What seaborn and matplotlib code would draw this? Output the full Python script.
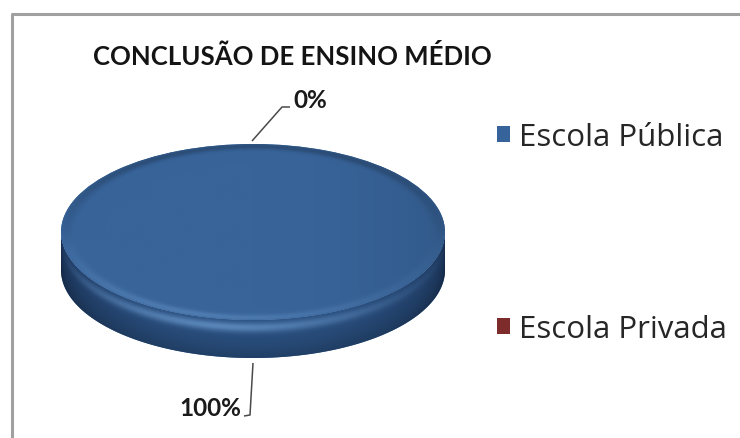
import numpy as np
import matplotlib
matplotlib.use("Agg")
import matplotlib.pyplot as plt
import seaborn as sns
from matplotlib.path import Path
from matplotlib.patches import PathPatch
from matplotlib.lines import Line2D

# dados do gráfico
titulo = "CONCLUSÃO DE ENSINO MÉDIO"
categorias = ["Escola Pública", "Escola Privada"]
percentuais = [100, 0]
cores = ["#36639a", "#7d2b2b"]

sns.set_theme(style="white")
plt.rcParams["font.family"] = ["Open Sans", "DejaVu Sans"]

W, H = 740, 439
fig = plt.figure(figsize=(W / 100, H / 100), dpi=100)
fig.patch.set_facecolor("white")
ax = fig.add_axes([0, 0, 1, 1])

# geometria do disco (pixels): centro da face superior, semi-eixos e espessura
cx, cy, a, b = 253, 233, 192, 88
esp = 38 / b

wedges, _ = ax.pie(percentuais, colors=cores, startangle=90, counterclock=False,
                   radius=1, wedgeprops=dict(linewidth=0, zorder=3))


def lateral(t1, t2):
    """Caminho da borda lateral visível entre os ângulos t1..t2 (graus)."""
    lo, hi = max(t1, -180), min(t2, 0)
    if hi <= lo:
        return None
    t = np.radians(np.linspace(lo, hi, 200))
    top = np.column_stack([np.cos(t), np.sin(t)])
    bot = np.column_stack([np.cos(t[::-1]), np.sin(t[::-1]) - esp])
    return Path(np.vstack([top, bot, top[:1]]), closed=True)


# sombreamento da lateral
nx, ny = 500, 160
xs = np.linspace(-1, 1, nx)
ys = np.linspace(-1 - esp, 0, ny)
X, Y = np.meshgrid(xs, ys)
ytop = -np.sqrt(np.clip(1 - X ** 2, 0, 1))
rel = np.clip((ytop - Y) / esp, 0, 1)
g = np.sqrt(np.clip(1 - X ** 2, 0, 1))
dark = np.array([24, 46, 80]) / 255
mid = np.array([42, 80, 128]) / 255
hi_c = np.array([100, 146, 198]) / 255
side = dark + (mid - dark) * g[..., None] ** 0.8
hw = np.exp(-((rel - 0.2) / 0.13) ** 2) * g ** 1.5 * (1 - 0.55 * np.clip(X + 0.2, 0, 1))
side = side + (hi_c - side) * (0.85 * hw)[..., None]
side = side * (1 - 0.2 * rel ** 2)[..., None]

for w in wedges:
    p = lateral(w.theta1, w.theta2)
    if p is None:
        continue
    patch = PathPatch(p, facecolor=w.get_facecolor(), edgecolor="none", zorder=2)
    ax.add_patch(patch)
    im = ax.imshow(np.clip(side, 0, 1), extent=(-1, 1, -1 - esp, 0), origin="lower",
                   aspect="auto", interpolation="bilinear", zorder=2.5)
    im.set_clip_path(patch)

# sombreamento da face superior
tx = np.linspace(-1, 1, 500)
TX, TY = np.meshgrid(tx, tx)
R = np.sqrt(TX ** 2 + TY ** 2)
base = np.array([56, 100, 154]) / 255
face = np.ones(TX.shape + (3,)) * base
face = face * (1 - 0.10 * np.clip(TX, 0, 1) ** 2)[..., None]
ring = np.exp(-((R - 0.975) / 0.035) ** 2)
front = np.clip(-TY, 0, 1) * (1 - 0.6 * np.clip(TX + 0.3, 0, 1))
face = face + (hi_c - face) * (0.55 * ring * front)[..., None]
face = face * (1 - 0.22 * ring * np.clip(TY + 0.2, 0, 1))[..., None]
for w in wedges:
    if w.theta2 - w.theta1 <= 0:
        continue
    im = ax.imshow(np.clip(face, 0, 1), extent=(-1, 1, -1, 1), origin="lower",
                   aspect="auto", interpolation="bilinear", zorder=3.5)
    im.set_clip_path(w)

# rótulos de porcentagem com linhas de chamada (deslocamentos em pixels)
chamadas = {
    "sup": dict(pts=[(-1, -3), (29, -37), (37, -37)], txt=(40, -44), ha="left"),
    "inf": dict(pts=[(0, 5), (-3, 57), (-9, 58)], txt=(-12, 50), ha="right"),
}
for w, v in zip(wedges, percentuais):
    th = np.radians((w.theta1 + w.theta2) / 2)
    ax0, ay0 = np.cos(th), np.sin(th)
    if ay0 < 0:
        ay0 -= esp
    c = chamadas["sup"] if ay0 > 0 else chamadas["inf"]
    px = [ax0 + dx / a for dx, dy in c["pts"]]
    py = [ay0 - dy / b for dx, dy in c["pts"]]
    ax.plot(px, py, color="#4a4a4a", lw=1.1, zorder=5, solid_capstyle="butt")
    ax.text(ax0 + c["txt"][0] / a, ay0 - c["txt"][1] / b, f"{v:.0f}%",
            ha=c["ha"], va="center", fontsize=17.5, fontweight="bold",
            family=["Lato", "DejaVu Sans"], color="#1a1a1a", zorder=6)

ax.set_aspect("auto")
ax.set_xlim(-cx / a, (W - cx) / a)
ax.set_ylim((cy - H) / b, cy / b)
ax.axis("off")

fig.text(93 / W, 1 - 65 / H, titulo, ha="left", va="baseline", fontsize=18.5,
         fontweight="bold", family=["Lato", "DejaVu Sans"], color="#141414")

leg = ax.legend(wedges, categorias, loc="center left",
                bbox_to_anchor=(497 / W, 1 - 234 / H), bbox_transform=fig.transFigure,
                frameon=False, fontsize=22.5, handlelength=0.42, handleheight=0.42,
                handletextpad=0.28, labelspacing=5.18, borderpad=0, borderaxespad=0)
for t in leg.get_texts():
    t.set_color("#262626")

# moldura
fig.add_artist(Line2D([12 / W, 12 / W, 1], [0, 1 - 15 / H, 1 - 15 / H],
                      transform=fig.transFigure, color="#a0a0a0", lw=2.2))

fig.savefig("out.png", dpi=100)
